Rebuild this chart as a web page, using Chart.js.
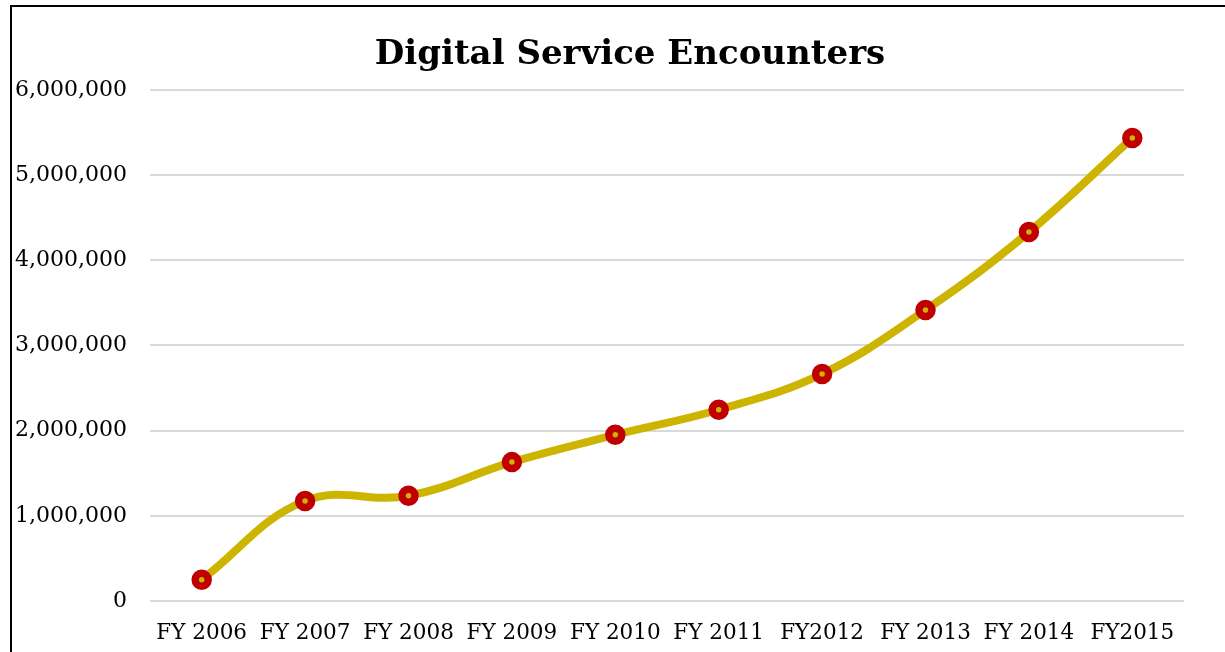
<!DOCTYPE html>
<html>
<head>
<meta charset="utf-8">
<script src="https://cdn.jsdelivr.net/npm/chart.js@4"></script>
<style>
  html,body{ margin:0; padding:0; background:#fff; overflow:hidden; }
  #wrap{ position:relative; width:1225px; height:652px; }
  #frame{ position:absolute; left:10px; top:5px; width:1240px; height:700px; border-left:2px solid #000; border-top:2px solid #000; box-sizing:border-box; pointer-events:none; }
  #ch{ position:absolute; left:0; top:0; }
</style>
</head>
<body>
<div id="wrap">
  <canvas id="ch" width="1225" height="652"></canvas>
  <div id="frame"></div>
</div>
<script>
// ── DATA ──
const years=['FY 2006','FY 2007','FY 2008','FY 2009','FY 2010','FY 2011','FY2012','FY 2013','FY 2014','FY2015'];
const encounters=[250000,1175000,1235000,1630000,1950000,2245000,2665000,3415000,4330000,5435000];
const yTicks=[0,1000000,2000000,3000000,4000000,5000000,6000000];

const lineColor='#ccb400', dotColor='#c00000', gridColor='#d9d9d9', fontFam='"DejaVu Serif", serif';

// title sits a bit right of canvas centre in the original
const shiftTitle={ id:'shiftTitle', afterLayout(c){ if(c.titleBlock) c.titleBlock.left=76; } };

new Chart(document.getElementById('ch'),{
  type:'line',
  data:{ labels:years, datasets:[{
    data:encounters, borderColor:lineColor, borderWidth:8, tension:0.4,
    pointRadius:6.5, pointBorderWidth:7.5, pointBackgroundColor:lineColor, pointBorderColor:dotColor,
    pointHoverRadius:6.5
  }]},
  plugins:[shiftTitle],
  options:{ responsive:false, animation:false,
    layout:{ padding:{ left:0, right:41, top:0, bottom:0 } },
    plugins:{
      legend:{display:false}, tooltip:{enabled:false},
      title:{ display:true, text:'Digital Service Encounters', color:'#000',
        font:{ family:fontFam, size:34, weight:'bold' }, padding:{ top:35, bottom:14 } }
    },
    scales:{
      x:{ offset:true, grid:{display:false}, border:{display:false},
        ticks:{ color:'#000', font:{family:fontFam, size:21.5}, padding:12, maxRotation:0, autoSkip:false },
        afterFit:s=>{ s.height=51; } },
      y:{ min:yTicks[0], max:yTicks[yTicks.length-1], border:{display:false},
        grid:{ color:gridColor, lineWidth:2, drawTicks:false },
        afterBuildTicks:s=>{ s.ticks=yTicks.map(v=>({value:v})); },
        ticks:{ color:'#000', font:{family:fontFam, size:22}, padding:23,
          callback:v=>v.toLocaleString('en-US') },
        afterFit:s=>{ s.width=150; } }
    }
  }
});
</script>
</body>
</html>
